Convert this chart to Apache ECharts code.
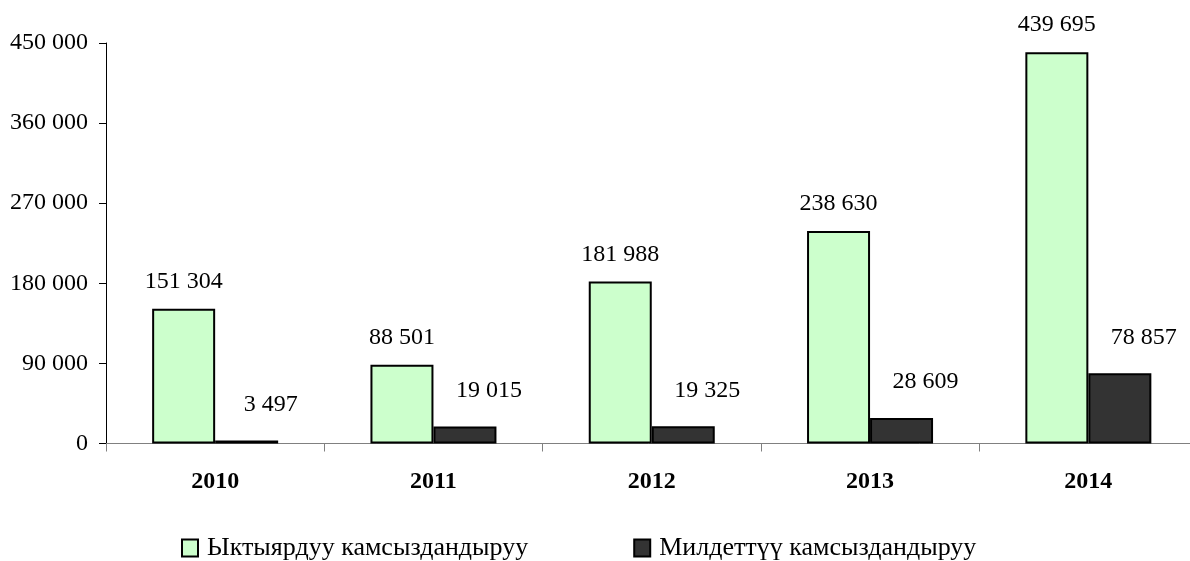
<!DOCTYPE html>
<html>
<head>
<meta charset="utf-8">
<script src="https://cdn.jsdelivr.net/npm/echarts@6/dist/echarts.min.js"></script>
<style>
  html, body { margin: 0; padding: 0; background: #fff; }
  #chart { width: 1190px; height: 561px; }
</style>
</head>
<body>
<div id="chart"></div>
<script>
// данные
const years = ['2010', '2011', '2012', '2013', '2014'];
const voluntary = [151304, 88501, 181988, 238630, 439695];
const mandatory = [3497, 19015, 19325, 28609, 78857];
const seriesNames = ['Ыктыярдуу камсыздандыруу', 'Милдеттүү камсыздандыруу'];

const FONT = '"Liberation Serif", "Times New Roman", serif';

// 151304 -> "151 304"
function spaced(v) {
  return String(v).replace(/\B(?=(\d{3})+(?!\d))/g, ' ');
}

const chart = echarts.init(document.getElementById('chart'));

chart.setOption({
  animation: false,
  textStyle: { fontFamily: FONT, color: '#000' },
  // plot area runs a little past the right edge, as in the original
  grid: {
    left: 106, width: 1091.5, top: 43, height: 400.5,
    containLabel: false, outerBoundsMode: 'none'
  },
  legend: {
    left: 181,
    top: 535,
    padding: 0,
    icon: 'rect',
    itemWidth: 16,
    itemHeight: 17,
    itemGap: 105,
    textStyle: { fontFamily: FONT, fontSize: 26, color: '#000', padding: [0, 0, 0, 4] },
    data: seriesNames
  },
  xAxis: {
    type: 'category',
    data: years,
    axisLine: { lineStyle: { color: '#808080', width: 1 } },
    axisTick: { show: true, alignWithLabel: false, length: 8, lineStyle: { color: '#808080' } },
    axisLabel: { fontFamily: FONT, fontSize: 24, fontWeight: 'bold', color: '#000', margin: 26 }
  },
  yAxis: {
    type: 'value',
    min: 0,
    max: 450000,
    interval: 90000,
    splitLine: { show: false },
    axisLine: { show: true, lineStyle: { color: '#000', width: 1 } },
    axisTick: { show: true, length: 7, lineStyle: { color: '#000' } },
    axisLabel: { fontFamily: FONT, fontSize: 24, color: '#000', margin: 18, formatter: spaced }
  },
  series: [
    {
      name: seriesNames[0],
      type: 'bar',
      data: voluntary,
      barWidth: 63,
      barGap: '0%',
      itemStyle: { color: '#CCFFCC', borderColor: '#000', borderWidth: 2 },
      label: {
        show: true,
        position: 'top',
        distance: 15,
        fontFamily: FONT,
        fontSize: 24,
        color: '#000',
        formatter: p => spaced(p.value)
      }
    },
    {
      name: seriesNames[1],
      type: 'bar',
      data: mandatory,
      barWidth: 63,
      barGap: '0%',
      itemStyle: { color: '#333333', borderColor: '#000', borderWidth: 2 },
      label: {
        show: true,
        position: 'top',
        distance: 15,
        offset: [24, -9],
        fontFamily: FONT,
        fontSize: 24,
        color: '#000',
        formatter: p => spaced(p.value)
      }
    }
  ]
});
</script>
</body>
</html>
